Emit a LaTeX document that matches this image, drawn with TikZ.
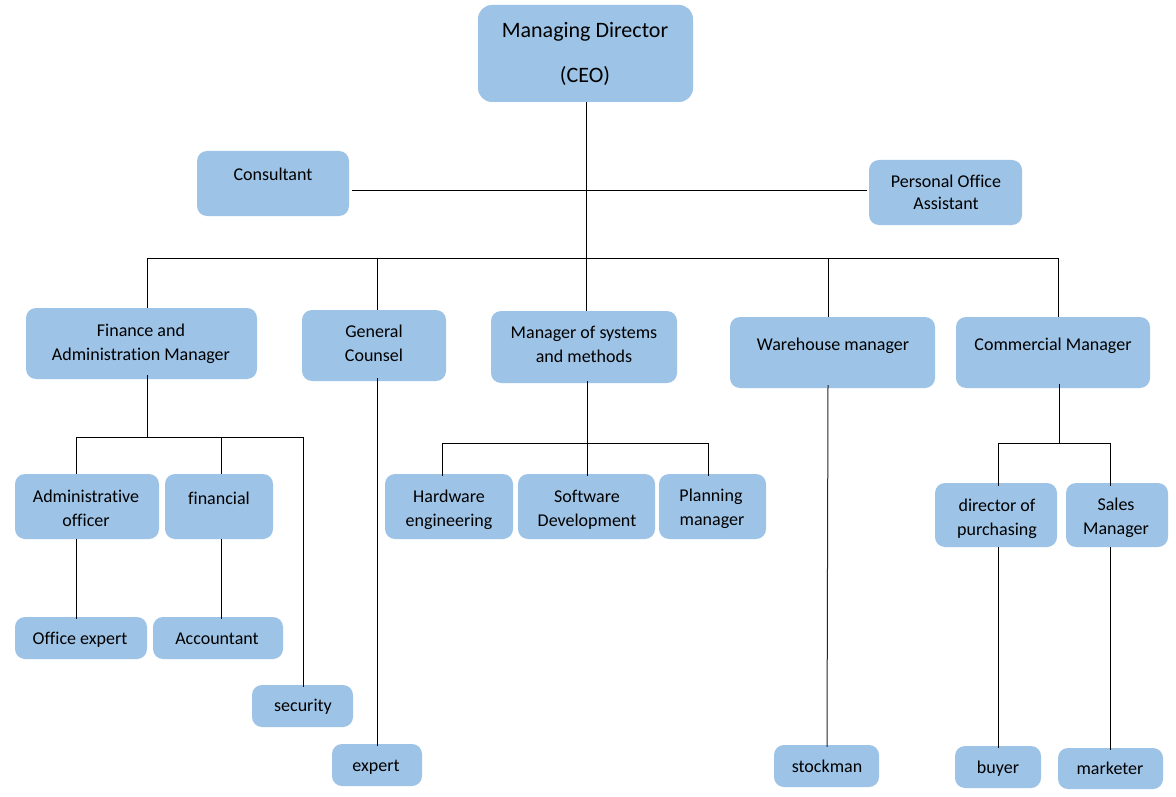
\documentclass[tikz,border=0pt]{standalone}
\usepackage{fontspec}
\setmainfont{Carlito}[Ligatures=NoCommon]
\usetikzlibrary{fit}
\definecolor{boxblue}{RGB}{157,195,230}
\tikzset{
  box/.style={fill=boxblue, draw=none, rounded corners=10pt, inner sep=0pt},
  lbl/.style={anchor=base, inner sep=0pt, font=\fontsize{18}{21}\selectfont, text=black},
  big/.style={lbl, font=\fontsize{22}{26}\selectfont},
  conn/.style={draw=black, line width=1pt}
}
\begin{document}
\begin{tikzpicture}[x=1pt,y=-1pt]
\useasboundingbox (0,0) rectangle (1176,797);
\fill[white] (0,0) rectangle (1176,797);
% boxes
\node[box, rounded corners=14pt, fit={(478,5) (693,102)}] (ceo) {};
\node[box, fit={(197,151) (349,216)}] (cons) {};
\node[box, fit={(869,160) (1022,225)}] (poa) {};
\node[box, fit={(26,308) (257,379)}] (fin) {};
\node[box, fit={(302,310) (446,381)}] (gc) {};
\node[box, fit={(491,311) (677,383)}] (mos) {};
\node[box, fit={(730,317) (935,388)}] (wh) {};
\node[box, fit={(956,317) (1150,388)}] (com) {};
\node[box, fit={(15,474) (159,539)}] (adm) {};
\node[box, fit={(165,474) (273,539)}] (finl) {};
\node[box, fit={(385,474) (513,539)}] (hw) {};
\node[box, fit={(518,474) (655,539)}] (sw) {};
\node[box, fit={(659,474) (766,539)}] (plan) {};
\node[box, fit={(935,483) (1057,547)}] (dop) {};
\node[box, fit={(1066,483) (1168,547)}] (sm) {};
\node[box, fit={(15,617) (147,659)}] (off) {};
\node[box, fit={(153,617) (283,659)}] (acc) {};
\node[box, fit={(252,685) (353,727)}] (sec) {};
\node[box, fit={(332,744) (422,786)}] (exp) {};
\node[box, fit={(774,745) (879,787)}] (stock) {};
\node[box, fit={(955,746) (1041,788)}] (buy) {};
\node[box, fit={(1058,748) (1163,789)}] (mkt) {};
% labels
\node[big] (ceo-t1) at (585,38) {Managing Director};
\node[big] (ceo-t2) at (585,83) {(CEO)};
\node[lbl] (cons-t) at (273,181) {Consultant};
\node[lbl] (poa-t1) at (946,187) {Personal Office};
\node[lbl] (poa-t2) at (946,210) {Assistant};
\node[lbl] (fin-t1) at (141,336) {Finance and};
\node[lbl] (fin-t2) at (141,360) {Administration Manager};
\node[lbl] (gc-t1) at (374,337) {General};
\node[lbl] (gc-t2) at (374,361) {Counsel};
\node[lbl] (mos-t1) at (584,338) {Manager of systems};
\node[lbl] (mos-t2) at (584,362) {and methods};
\node[lbl] (wh-t) at (833,350) {Warehouse manager};
\node[lbl] (com-t) at (1053,350) {Commercial Manager};
\node[lbl] (adm-t1) at (86,502) {Administrative};
\node[lbl] (adm-t2) at (86,526) {officer};
\node[lbl] (finl-t) at (219,504) {financial};
\node[lbl] (hw-t1) at (449,502) {Hardware};
\node[lbl] (hw-t2) at (449,526) {engineering};
\node[lbl] (sw-t1) at (587,502) {Software};
\node[lbl] (sw-t2) at (587,526) {Development};
\node[lbl] (plan-t1) at (711,501) {Planning};
\node[lbl] (plan-t2) at (712,525) {manager};
\node[lbl] (dop-t1) at (997,511) {director of};
\node[lbl] (dop-t2) at (997,535) {purchasing};
\node[lbl] (sm-t1) at (1116,510) {Sales};
\node[lbl] (sm-t2) at (1116,534) {Manager};
\node[lbl] (off-t) at (80,644) {Office expert};
\node[lbl] (acc-t) at (217,644) {Accountant};
\node[lbl] (sec-t) at (303,711) {security};
\node[lbl] (exp-t) at (376,771) {expert};
\node[lbl] (stock-t) at (827,772) {stockman};
\node[lbl] (buy-t) at (998,773) {buyer};
\node[lbl] (mkt-t) at (1110,774) {marketer};
% junction coordinates
\coordinate (mid) at (586,191);
\coordinate (bus) at (586,258);
\coordinate (k1) at (147,258);
\coordinate (k2) at (377,258);
\coordinate (k4) at (828,258);
\coordinate (k5) at (1058,258);
\coordinate (fbus) at (147,437);
\coordinate (fa) at (76,437);
\coordinate (ff) at (221,437);
\coordinate (fs) at (303,437);
\coordinate (mbus) at (587,443);
\coordinate (mh) at (442,443);
\coordinate (mp) at (708,443);
\coordinate (cbus) at (1059,443);
\coordinate (cd) at (998,443);
\coordinate (cs) at (1110,443);
% connectors
\draw[conn] (ceo.south -| bus) -- (bus);
\draw[conn] (cons.east |- mid) ++(3,0) -- ([xshift=-2pt]poa.west |- mid);
\draw[conn] (k1) -- (k5);
\draw[conn] (k1) -- (k1 |- fin.north);
\draw[conn] (k2) -- (k2 |- gc.north);
\draw[conn] (bus) -- (bus |- mos.north);
\draw[conn] (k4) -- (k4 |- wh.north);
\draw[conn] (k5) -- (k5 |- com.north);
% finance subtree
\draw[conn] ([yshift=4pt]fbus |- fin.south) -- (fbus);
\draw[conn] (fa) -- (fs);
\draw[conn] (fa) -- (fa |- adm.north);
\draw[conn] (ff) -- (ff |- finl.north);
\draw[conn] (fs) -- ([yshift=-2pt]fs |- sec.north);
\draw[conn] (fa |- adm.south) -- ([yshift=-2pt]fa |- off.north);
\draw[conn] (ff |- finl.south) -- ([yshift=-2pt]ff |- acc.north);
% general counsel
\draw[conn] ([yshift=3pt]k2 |- gc.south) -- ([yshift=-2pt]k2 |- exp.north);
% systems subtree
\draw[conn] ([yshift=2pt]mbus |- mos.south) -- (mbus);
\draw[conn] (mh) -- (mp);
\draw[conn] (mh) -- ([yshift=-2pt]mh |- hw.north);
\draw[conn] (mbus) -- ([yshift=-2pt]mbus |- sw.north);
\draw[conn] (mp) -- ([yshift=-2pt]mp |- plan.north);
% warehouse
\draw[conn, draw=black!85] ([yshift=3pt]k4 |- wh.south) -- ([xshift=-1pt,yshift=-2pt]k4 |- stock.north);
% commercial subtree
\draw[conn] ([yshift=4pt]cbus |- com.south) -- (cbus);
\draw[conn] (cd) -- (cs);
\draw[conn] (cd) -- ([yshift=-3pt]cd |- dop.north);
\draw[conn] (cs) -- ([yshift=-3pt]cs |- sm.north);
\draw[conn] (cd |- dop.south) -- ([yshift=-2pt]cd |- buy.north);
\draw[conn] (cs |- sm.south) -- ([yshift=-2pt]cs |- mkt.north);
\end{tikzpicture}
\end{document}
